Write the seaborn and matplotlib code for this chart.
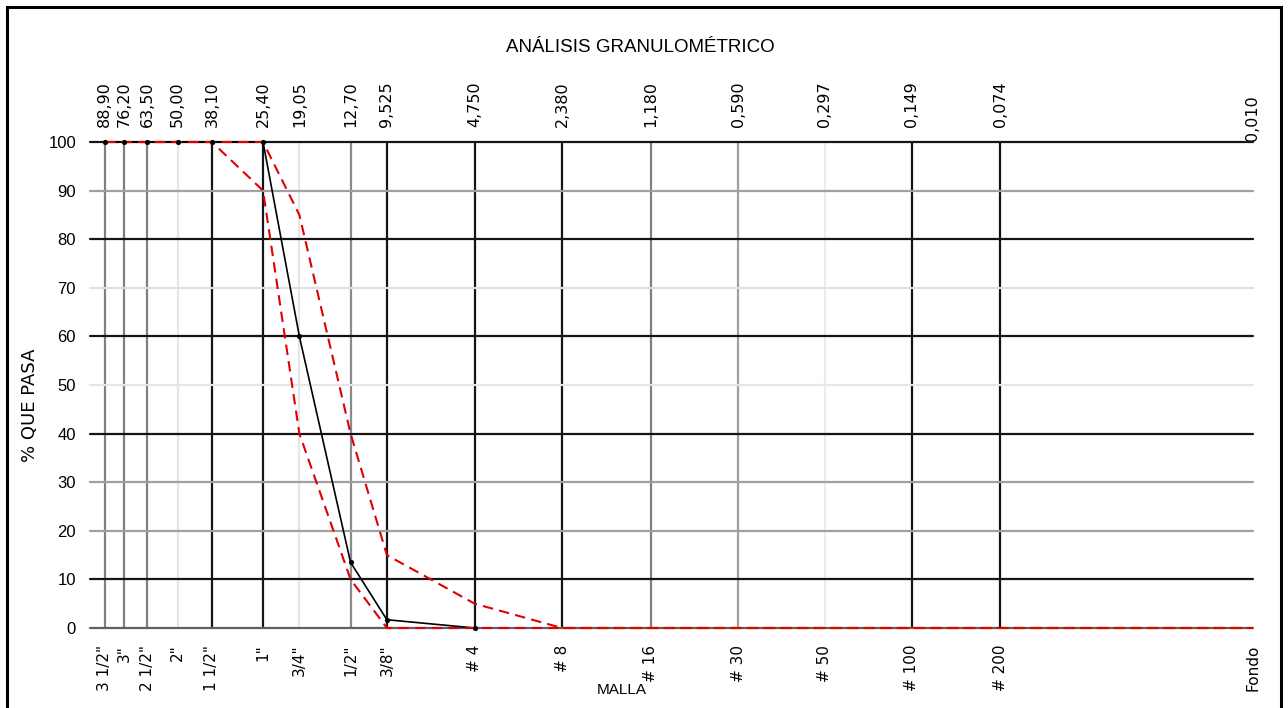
import matplotlib
matplotlib.use("Agg")
import matplotlib.pyplot as plt
import matplotlib.transforms as mtransforms
import seaborn as sns
import pandas as pd
from matplotlib.patches import Rectangle

# ---- data ----
sieve_mm = [88.90, 76.20, 63.50, 50.00, 38.10, 25.40, 19.05, 12.70, 9.525,
            4.750, 2.380, 1.180, 0.590, 0.297, 0.149, 0.074, 0.010]
sieve_mm_labels = ["88,90", "76,20", "63,50", "50,00", "38,10", "25,40", "19,05",
                   "12,70", "9,525", "4,750", "2,380", "1,180", "0,590", "0,297",
                   "0,149", "0,074", "0,010"]
sieve_names = ['3 1/2"', '3"', '2 1/2"', '2"', '1 1/2"', '1"', '3/4"', '1/2"', '3/8"',
               '# 4', '# 8', '# 16', '# 30', '# 50', '# 100', '# 200', 'Fondo']

sample_mm = [88.90, 76.20, 63.50, 50.00, 38.10, 25.40, 19.05, 12.70, 9.525, 4.750]
sample_pass = [100, 100, 100, 100, 100, 100, 60.0, 13.5, 1.7, 0.0]

limit_mm = [88.90, 76.20, 63.50, 50.00, 38.10, 25.40, 19.05, 12.70, 9.525,
            4.750, 2.380, 1.180, 0.590, 0.297, 0.149, 0.074, 0.010]
upper_pass = [100, 100, 100, 100, 100, 100, 85, 40, 15, 5, 0, 0, 0, 0, 0, 0, 0]
lower_pass = [100, 100, 100, 100, 100, 90, 40, 10, 0, 0, 0, 0, 0, 0, 0, 0, 0]

y_ticks = [0, 10, 20, 30, 40, 50, 60, 70, 80, 90, 100]

# ---- styles (not data) ----
v_grid_colors = ['#808080', '#808080', '#808080', '#e6e6e6', '#151515', '#151515',
                 '#e6e6e6', '#8a8a8a', '#151515', '#151515', '#151515', '#808080',
                 '#a0a0a0', '#ececec', '#151515', '#151515', None]
h_grid_colors = ['#606060', '#151515', '#a0a0a0', '#a0a0a0', '#151515', '#e6e6e6',
                 '#151515', '#e0e0e0', '#151515', '#a0a0a0', '#151515']

sns.set_style("white")
plt.rcParams['font.family'] = ['Liberation Sans', 'DejaVu Sans']
plt.rcParams['text.color'] = 'black'
plt.rcParams['xtick.color'] = 'black'
plt.rcParams['ytick.color'] = 'black'

fig = plt.figure(figsize=(12.88, 7.08), dpi=100)
ax = fig.add_axes([90 / 1288, 1 - 628 / 708, (1253 - 90) / 1288, (628 - 142) / 708])

ax.set_xscale('log')
ax.set_xlim(100, 0.010)
ax.set_ylim(0, 100)

for xv, c in zip(sieve_mm, v_grid_colors):
    if c is not None:
        ax.axvline(xv, color=c, lw=1.6, zorder=1)
for yv, c in zip(y_ticks, h_grid_colors):
    ax.axhline(yv, color=c, lw=1.6, zorder=1, clip_on=False)

df_s = pd.DataFrame({"mm": sample_mm, "pasa": sample_pass})
df_u = pd.DataFrame({"mm": limit_mm, "pasa": upper_pass})
df_l = pd.DataFrame({"mm": limit_mm, "pasa": lower_pass})

sns.lineplot(data=df_s, x="mm", y="pasa", ax=ax, color="black", lw=1.2,
             zorder=3, sort=False, clip_on=False)
sns.lineplot(data=df_u, x="mm", y="pasa", ax=ax, color="#e00000", lw=1.5,
             linestyle=(0, (5, 3)), zorder=4, sort=False, clip_on=False)
sns.lineplot(data=df_l, x="mm", y="pasa", ax=ax, color="#e00000", lw=1.5,
             linestyle=(0, (5, 3)), zorder=4, sort=False, clip_on=False)
sns.scatterplot(data=df_s, x="mm", y="pasa", ax=ax, color="black", s=14,
                linewidth=0, zorder=5, clip_on=False)

for s in ax.spines.values():
    s.set_visible(False)

ax.set_yticks(y_ticks)
ax.set_yticklabels([str(v) for v in y_ticks], fontsize=12)
ax.tick_params(axis='y', length=0, pad=10)

ax.set_xticks(sieve_mm)
ax.set_xticks([], minor=True)
ax.set_xticklabels(sieve_names, rotation=90, fontsize=11, family='DejaVu Sans')
ax.tick_params(axis='x', length=0, pad=12)

top = ax.secondary_xaxis('top')
top.set_xticks(sieve_mm)
top.set_xticks([], minor=True)
top.set_xticklabels(sieve_mm_labels, rotation=90, fontsize=11.5, family='DejaVu Sans')
top.tick_params(axis='x', length=0, pad=11)
for s in top.spines.values():
    s.set_visible(False)
# last label (0,010) sits lower, touching the top of the plot
last = top.get_xticklabels()[-1]
last.set_transform(last.get_transform() +
                   mtransforms.ScaledTranslation(0, -14 / 100, fig.dpi_scale_trans))

ax.set_xlabel("")
ax.set_ylabel("")
fig.text(30 / 1288, 1 - 405 / 708, "% QUE PASA", rotation=90, ha='center', va='center',
         fontsize=13, family='DejaVu Sans')
fig.text(622 / 1288, 1 - 690 / 708, "MALLA", ha='center', va='center', fontsize=11)
fig.text(640 / 1288, 1 - 48 / 708, "ANÁLISIS GRANULOMÉTRICO", ha='center', va='center',
         fontsize=13.5)

fig.patches.append(Rectangle((7 / 1288, -0.01), (1281 - 7) / 1288, 1 - 7 / 708 + 0.01,
                             transform=fig.transFigure, fill=False, edgecolor='black',
                             lw=2.2))

fig.savefig("out.png", dpi=100)
